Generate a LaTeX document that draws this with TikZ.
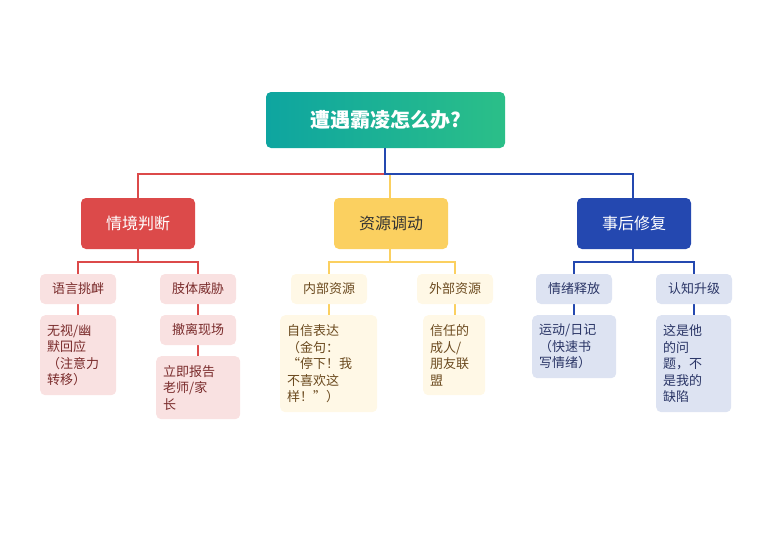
\documentclass[tikz,border=0pt]{standalone}
\usepackage{fontspec}
\setmainfont{Noto Sans CJK SC}
\usetikzlibrary{shadings}
\definecolor{cr}{HTML}{DC4A4A}\definecolor{cy}{HTML}{FBD060}\definecolor{cb}{HTML}{2448B0}
\definecolor{lr}{HTML}{F9E1E1}\definecolor{ly}{HTML}{FFF8E6}\definecolor{lb}{HTML}{DDE3F2}
\definecolor{tr}{HTML}{7A2B2B}\definecolor{ty}{HTML}{6B4A1F}\definecolor{tb}{HTML}{2A3566}
\begin{document}
\begin{tikzpicture}[x=1pt,y=-1pt,
 box/.style={rounded corners=5pt,inner sep=0pt},
 lone/.style={box,font=\fontsize{16}{19}\selectfont},
 ltwo/.style={box,font=\fontsize{13}{16}\selectfont},
 lthree/.style={box,font=\fontsize{13}{16.5}\selectfont,align=left,anchor=north west,inner xsep=7pt,inner ysep=6pt},
 rl/.style={draw=cr,line width=2.6pt},yl/.style={draw=cy,line width=2.6pt},bl/.style={draw=cb,line width=2.6pt}]
\useasboundingbox (0,0) rectangle (771,552);
% connectors
\coordinate (hr) at (138,174);\coordinate (hy) at (390,174);\coordinate (hb) at (633,174);
\draw[rl] (385,174) -- (hr) -- (138,198);
\draw[yl] (hy) -- (390,198);
\draw[bl] (385,148) -- (385,174) -- (hb) -- (633,198);
\draw[rl] (138,249) -- (138,262) coordinate (r0); \draw[rl] (78,274) |- (r0) -| (198,274);
\draw[yl] (390,249) -- (390,262) coordinate (y0); \draw[yl] (329,274) |- (y0) -| (455,274);
\draw[bl] (633,249) -- (633,262) coordinate (b0); \draw[bl] (574,274) |- (b0) -| (694,274);
\draw[rl] (78,304) -- (78,315); \draw[rl] (198,304) -- (198,356);
\draw[yl] (329,304) -- (329,315); \draw[yl] (455,304) -- (455,315);
\draw[bl] (574,304) -- (574,315); \draw[bl] (694,304) -- (694,315);
% root
\node[box,minimum width=239pt,minimum height=56pt,left color={rgb,255:red,14;green,165;blue,160},right color={rgb,255:red,43;green,191;blue,136},text=white,font=\fontsize{20}{24}\selectfont\bfseries] (root) at (385.5,120) {遭遇霸凌怎么办?};
% level 1
\node[lone,fill=cr,text=white,minimum width=114pt,minimum height=51pt] (a) at (138,223.5) {情境判断};
\node[lone,fill=cy,text=black!80,minimum width=114pt,minimum height=51pt] (b) at (391,223.5) {资源调动};
\node[lone,fill=cb,text=white,minimum width=114pt,minimum height=51pt] (c) at (634,223.5) {事后修复};
% level 2
\foreach \n/\x/\f/\t/\s in {a1/78/lr/tr/语言挑衅,a2/198/lr/tr/肢体威胁,b1/329/ly/ty/内部资源,b2/455/ly/ty/外部资源,c1/574/lb/tb/情绪释放,c2/694/lb/tb/认知升级}
  \node[ltwo,fill=\f,text=\t,minimum width=76pt,minimum height=30pt] (\n) at (\x,289) {\s};
\node[ltwo,fill=lr,text=tr,minimum width=76pt,minimum height=30pt] (a3) at (198,330) {撤离现场};
% level 3
\node[lthree,fill=lr,text=tr,text width=62pt,minimum height=80pt] (a4) at (40,315) {无视/幽\\默回应\\（注意力\\转移）};
\node[lthree,fill=lr,text=tr,text width=70pt,minimum height=63pt] (a5) at (156,356) {立即报告\\老师/家\\长};
\node[lthree,fill=ly,text=ty,text width=83pt,minimum height=97pt] (b3) at (280,315) {自信表达\\（金句：\\“停下！我\\不喜欢这\\样！”）};
\node[lthree,fill=ly,text=ty,text width=48pt,minimum height=80pt] (b4) at (423,315) {信任的\\成人/\\朋友联\\盟};
\node[lthree,fill=lb,text=tb,text width=70pt,minimum height=63pt] (c3) at (532,315) {运动/日记\\（快速书\\写情绪）};
\node[lthree,fill=lb,text=tb,text width=61pt,minimum height=97pt] (c4) at (656,315) {这是他\\的问\\题，不\\是我的\\缺陷};
\end{tikzpicture}
\end{document}
